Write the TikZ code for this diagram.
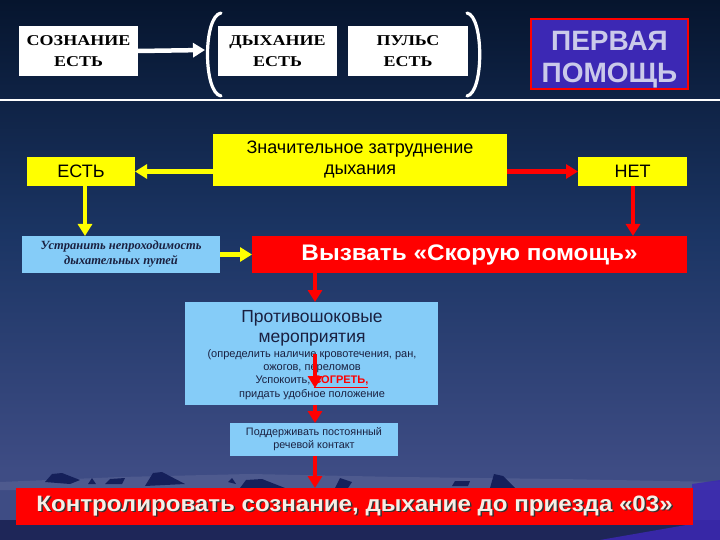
\documentclass[tikz,border=0pt]{standalone}
\usepackage{fontspec}
\setmainfont{Liberation Sans}
\newfontfamily\serifrm[FakeStretch=1.2]{Liberation Serif}
\newfontfamily\serifit{Liberation Serif}
\newfontfamily\sanswide[FakeStretch=1.08]{Liberation Sans}
\usetikzlibrary{arrows.meta}
\definecolor{bgtop}{HTML}{06152E}
\definecolor{bgmid}{HTML}{1B3564}
\definecolor{bgbot}{HTML}{3E4C84}
\definecolor{mount}{HTML}{15205A}
\definecolor{ridge}{HTML}{4E5A8E}
\definecolor{lowband}{HTML}{1E2658}
\definecolor{yel}{HTML}{FFFF00}
\definecolor{lblue}{HTML}{85CCF8}
\definecolor{redbox}{HTML}{FF0000}
\definecolor{violet}{HTML}{3C28B4}
\definecolor{lav}{HTML}{CACAEA}
\definecolor{cream}{HTML}{F6EEE6}
\definecolor{darktxt}{HTML}{1A2040}
\newcommand{\shadowtext}[1]{\rlap{\hspace{1.5pt}\raisebox{-1.5pt}{\color{black!80}#1}}#1}
\begin{document}
\begin{tikzpicture}[x=1pt,y=-1pt,
  box/.style={inner sep=0pt, outer sep=0pt, anchor=north west, align=center},
  whitebox/.style={box, fill=white, text=black, font=\serifrm\bfseries\fontsize{15}{21}\selectfont},
  yelbox/.style={box, fill=yel, text=black, font=\fontsize{18}{21}\selectfont},
  bluebox/.style={box, fill=lblue, text=darktxt},
  redrect/.style={box, fill=redbox, text=white},
  conn/.style={line width=4.5pt, -{Triangle[width=14pt,length=12pt]}},
  yconn/.style={conn, draw=yel},
  rconn/.style={conn, draw=red},
  wconn/.style={conn, draw=white},
  paren/.style={draw=white, line width=3.2pt, line cap=round}
]
\useasboundingbox (0,0) rectangle (720,540);
% background
\shade[top color=bgtop, bottom color=bgbot, middle color=bgmid] (0,0) rectangle (720,470);
\fill[bgbot] (0,469) rectangle (720,540);
% mountains ridge and peaks
\fill[ridge] (0,482) -- (120,477) -- (250,474) -- (400,477) -- (560,479) -- (720,482) -- (720,490) -- (0,490) -- cycle;
\fill[mount] (45,482) -- (52,474) -- (62,473) -- (80,480) -- (70,484) -- cycle;
\fill[mount] (88,484) -- (92,478) -- (96,484) -- cycle;
\fill[mount] (105,484) -- (110,479) -- (125,478) -- (122,484) -- cycle;
\fill[mount] (145,486) -- (153,473) -- (162,472) -- (185,484) -- cycle;
\fill[mount] (228,482) -- (232,478) -- (236,484) -- cycle;
\fill[mount] (240,488) -- (246,480) -- (262,479) -- (285,488) -- cycle;
\fill[mount] (335,488) -- (340,478) -- (352,482) -- (348,488) -- cycle;
\fill[mount] (452,486) -- (455,481) -- (470,481) -- (468,486) -- cycle;
\fill[mount] (490,488) -- (494,474) -- (503,476) -- (515,488) -- cycle;
% lower band
\fill[lowband] (0,520) -- (720,520) -- (720,540) -- (0,540) -- cycle;
\fill[violet, opacity=0.85] (692,484) -- (720,480) -- (720,540) -- (600,540) -- (692,524) -- cycle;
% separator line
\draw[white, line width=2pt] (0,100) -- (720,100);
% top row
\node[whitebox, minimum width=119pt, minimum height=50pt] (soz) at (19,26) {СОЗНАНИЕ\\ЕСТЬ};
\node[whitebox, minimum width=119pt, minimum height=50pt] (dyh) at (218,26) {ДЫХАНИЕ\\ЕСТЬ};
\node[whitebox, minimum width=120pt, minimum height=50pt] (puls) at (348,26) {ПУЛЬС\\ЕСТЬ};
\node[box, fill=violet, draw=red, line width=2pt, text=lav, minimum width=157pt, minimum height=70pt,
  font=\bfseries\fontsize{28}{32}\selectfont] (perv) at (531,19) {\rule{0pt}{30pt}ПЕРВАЯ\\ПОМОЩЬ};
% parentheses
\coordinate (lp) at (205,50);
\draw[paren] (221,13) .. controls (203,16) and (203,93) .. (221,96);
\draw[paren] (467,13) .. controls (484,16) and (484,93) .. (467,96);
\draw[wconn] (soz.east) -- (lp);
% second row
\node[yelbox, minimum width=294pt, minimum height=52pt] (znach) at (213,134) {Значительное затруднение\\дыхания};
\node[yelbox, minimum width=108pt, minimum height=29pt] (est) at (27,157) {ЕСТЬ};
\node[yelbox, minimum width=109pt, minimum height=29pt] (net) at (578,157) {НЕТ};
\draw[yconn] (znach.west |- est.east) -- (est.east);
\draw[rconn] (znach.east |- net.west) -- (net.west);
% third row
\node[bluebox, minimum width=198pt, minimum height=37pt,
  font=\serifit\bfseries\itshape\fontsize{12.5}{15}\selectfont] (ustr) at (22,236) {Устранить непроходимость\\дыхательных путей};
\node[redrect, minimum width=435pt, minimum height=37pt,
  font=\sanswide\bfseries\fontsize{22.5}{26}\selectfont] (vyz) at (252,236) {Вызвать «Скорую помощь»};
\draw[yconn] (est.south -| 85,0) -- (ustr.north -| 85,0);
\draw[rconn] (net.south -| 633,0) -- (vyz.north -| 633,0);
\draw[yconn] (ustr.east) -- (vyz.west |- ustr.east);
% anti-shock box
\node[bluebox, minimum width=253pt, minimum height=103pt] (prot) at (185,302) {};
\node[anchor=north, inner sep=0pt, align=center, text=darktxt, font=\fontsize{17.5}{20}\selectfont] (protT) at (312,310)
  {Противошоковые\\мероприятия};
\node[anchor=north, inner sep=0pt, align=center, text=darktxt, font=\fontsize{11}{13.3}\selectfont] (protS) at (312,349)
  {(определить наличие кровотечения, ран,\\ожогов, переломов\\Успокоить, {\bfseries\color{red}\underline{СОГРЕТЬ,}}\\придать удобное положение};
\draw[rconn] (vyz.south -| 315,0) -- (prot.north -| 315,0);
\coordinate (in1) at (315,354);
\coordinate (in2) at (315,388);
\draw[rconn] (in1) -- (in2);
% support box
\node[bluebox, minimum width=168pt, minimum height=33pt,
  font=\fontsize{10.8}{13}\selectfont] (podd) at (230,423) {Поддерживать постоянный\\речевой контакт};
\draw[rconn] (prot.south -| 315,0) -- (podd.north -| 315,0);
% bottom box
\node[redrect, text=cream, minimum width=677pt, minimum height=37pt,
  font=\sanswide\bfseries\fontsize{22.3}{26}\selectfont] (kontr) at (16,488) {\shadowtext{Контролировать сознание, дыхание до приезда «03»}};
\draw[rconn] (podd.south -| 315,0) -- (kontr.north -| 315,0);
\end{tikzpicture}
\end{document}
